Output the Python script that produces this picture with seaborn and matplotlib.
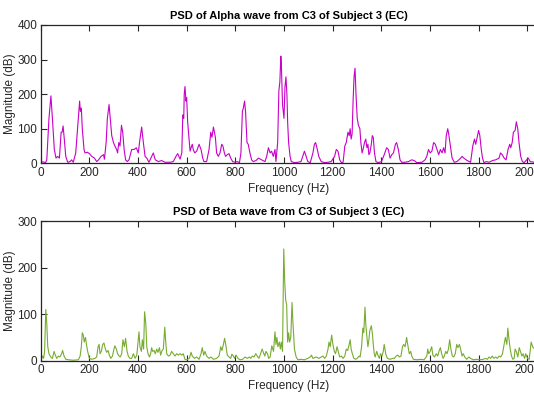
import seaborn as sns
import pandas as pd
import matplotlib.pyplot as plt

# PSD of alpha band (Hz, magnitude)
alpha_freq = [0, 10, 20, 25, 34, 42, 49, 56, 63, 70, 77, 84, 88, 92, 97, 103, 111, 121, 127,
              134, 144, 152, 160, 163, 167, 171, 178, 182, 192, 200, 210, 221, 230, 238, 248,
              258, 262, 269, 274, 281, 286, 292, 299, 305, 312, 316, 321, 326, 332, 337, 343,
              349, 356, 363, 374, 384, 393, 401, 408, 415, 422, 429, 436, 445, 453, 463, 471,
              484, 497, 511, 532, 545, 556, 563, 573, 580, 584, 588, 590, 593, 597, 600, 604,
              610, 614, 618, 623, 627, 633, 641, 651, 659, 666, 671, 682, 692, 699, 704, 710,
              714, 718, 723, 730, 737, 744, 749, 755, 760, 767, 774, 781, 789, 799, 808, 817,
              823, 829, 833, 838, 842, 848, 853, 860, 867, 874, 885, 895, 908, 922, 929, 936,
              943, 949, 956, 963, 967, 974, 979, 983, 987, 989, 994, 997, 1000, 1004, 1008,
              1012, 1015, 1019, 1025, 1030, 1043, 1057, 1070, 1077, 1084, 1091, 1098, 1108,
              1119, 1125, 1130, 1137, 1143, 1153, 1167, 1181, 1194, 1208, 1215, 1222, 1229,
              1236, 1243, 1250, 1256, 1263, 1268, 1272, 1276, 1280, 1284, 1288, 1292, 1296,
              1301, 1306, 1312, 1316, 1321, 1325, 1331, 1336, 1341, 1345, 1349, 1353, 1359,
              1363, 1367, 1372, 1378, 1387, 1401, 1412, 1422, 1429, 1436, 1443, 1450, 1458,
              1463, 1470, 1477, 1484, 1498, 1512, 1525, 1535, 1546, 1567, 1580, 1587, 1594,
              1601, 1608, 1615, 1622, 1629, 1636, 1643, 1650, 1656, 1662, 1667, 1673, 1677,
              1684, 1691, 1700, 1711, 1722, 1732, 1739, 1753, 1767, 1776, 1783, 1788, 1794,
              1800, 1805, 1811, 1816, 1822, 1832, 1843, 1857, 1870, 1884, 1890, 1897, 1905,
              1913, 1921, 1928, 1932, 1938, 1943, 1950, 1955, 1961, 1966, 1973, 1980, 1987,
              2004, 2012, 2030]
alpha_mag = [3, 4, 2, 10, 130, 195, 120, 40, 15, 20, 15, 90, 90, 108, 70, 20, 3, 5, 10,
             3, 30, 105, 180, 150, 160, 100, 40, 30, 32, 28, 20, 15, 5, 10, 20,
             25, 12, 60, 130, 170, 130, 80, 60, 50, 40, 30, 60, 50, 110, 90, 40,
             10, 5, 10, 40, 40, 45, 30, 70, 105, 60, 20, 15, 3, 15, 30, 10,
             5, 8, 3, 3, 5, 20, 28, 12, 30, 140, 130, 200, 222, 180, 190, 120,
             70, 35, 45, 55, 40, 30, 35, 55, 40, 15, 5, 5, 40, 90, 75, 105,
             90, 75, 30, 20, 30, 55, 50, 30, 20, 25, 28, 15, 5, 3, 5, 2,
             30, 150, 160, 180, 150, 60, 55, 30, 10, 5, 8, 15, 10, 5, 20, 45,
             30, 35, 20, 40, 5, 60, 210, 235, 310, 290, 170, 150, 130, 220, 250,
             200, 120, 60, 20, 5, 2, 3, 5, 20, 35, 20, 5, 2,
             30, 55, 60, 40, 20, 5, 2, 3, 5, 20, 40, 35, 10,
             2, 3, 50, 60, 90, 80, 100, 70, 85, 180, 250, 275, 200,
             130, 110, 100, 60, 30, 40, 60, 70, 45, 55, 25, 30, 55,
             80, 75, 30, 5, 2, 5, 25, 45, 40, 15, 25, 30, 55,
             60, 40, 10, 3, 3, 5, 10, 8, 2, 3, 10, 20, 40,
             30, 35, 60, 55, 40, 25, 40, 30, 45, 30, 80, 100, 85,
             50, 15, 3, 5, 12, 20, 15, 8, 3, 50, 70, 55, 75,
             95, 80, 40, 15, 2, 5, 3, 8, 10, 15, 30, 25, 15,
             10, 40, 55, 45, 60, 90, 95, 120, 100, 60, 20, 5, 2,
             15, 5, 3]

# PSD of beta band (Hz, magnitude)
beta_freq = [0, 4, 8, 12, 16, 21, 25, 29, 34, 41, 48, 55, 60, 66, 73, 79, 86, 90, 96, 103,
             114, 134, 155, 162, 167, 171, 175, 179, 184, 188, 193, 200, 210, 223, 230, 236,
             240, 244, 249, 255, 260, 266, 271, 277, 282, 288, 295, 301, 305, 311, 316, 322,
             327, 333, 338, 344, 349, 355, 360, 367, 374, 381, 388, 395, 400, 404, 408, 414,
             418, 423, 427, 432, 436, 441, 447, 452, 456, 460, 466, 471, 477, 482, 488, 493,
             499, 504, 510, 514, 518, 525, 532, 538, 545, 552, 559, 566, 573, 580, 586, 593,
             600, 611, 618, 623, 632, 641, 651, 659, 664, 670, 675, 682, 692, 700, 710, 723,
             733, 740, 745, 751, 756, 762, 767, 774, 781, 786, 792, 797, 803, 811, 819, 830,
             840, 849, 858, 863, 870, 877, 884, 890, 897, 904, 910, 915, 921, 926, 932, 937,
             943, 950, 957, 963, 967, 971, 975, 981, 985, 989, 994, 999, 1003, 1007, 1011,
             1015, 1019, 1023, 1028, 1033, 1037, 1043, 1050, 1057, 1070, 1084, 1098, 1108,
             1113, 1119, 1132, 1143, 1153, 1160, 1167, 1174, 1181, 1185, 1190, 1196, 1201,
             1207, 1212, 1218, 1223, 1229, 1236, 1243, 1250, 1256, 1262, 1268, 1272, 1276,
             1281, 1287, 1295, 1301, 1309, 1313, 1319, 1324, 1328, 1333, 1336, 1341, 1345,
             1349, 1353, 1359, 1363, 1367, 1371, 1375, 1381, 1386, 1392, 1397, 1403, 1408,
             1412, 1418, 1425, 1436, 1447, 1454, 1461, 1468, 1474, 1481, 1487, 1492, 1498,
             1504, 1510, 1515, 1521, 1525, 1532, 1546, 1563, 1576, 1587, 1591, 1595, 1601,
             1607, 1612, 1619, 1626, 1632, 1637, 1643, 1648, 1654, 1659, 1665, 1670, 1676,
             1681, 1686, 1692, 1698, 1704, 1710, 1715, 1721, 1726, 1732, 1737, 1743, 1751,
             1760, 1767, 1778, 1792, 1805, 1819, 1829, 1836, 1843, 1850, 1856, 1863, 1870,
             1877, 1884, 1891, 1898, 1905, 1910, 1916, 1920, 1924, 1930, 1935, 1941, 1946,
             1950, 1956, 1961, 1967, 1972, 1978, 1983, 1989, 1994, 2001, 2008, 2016, 2022,
             2030]
beta_mag = [25, 5, 10, 5, 20, 110, 80, 30, 15, 8, 5, 20, 12, 5, 10, 8, 15, 22, 10, 3,
            2, 1, 2, 10, 30, 60, 55, 40, 50, 35, 20, 5, 3, 5, 8, 30,
            35, 15, 20, 35, 38, 25, 18, 22, 12, 5, 10, 25, 32, 25, 15, 10,
            8, 15, 45, 30, 48, 20, 10, 5, 5, 15, 5, 12, 40, 62, 30, 20,
            45, 25, 105, 80, 30, 15, 8, 15, 28, 20, 22, 15, 25, 18, 28, 12,
            22, 25, 72, 40, 15, 10, 12, 20, 15, 10, 15, 12, 15, 12, 15, 3,
            2, 5, 18, 10, 5, 8, 3, 15, 28, 12, 20, 10, 5, 8, 3, 5,
            10, 30, 22, 35, 48, 30, 12, 8, 5, 14, 10, 5, 12, 5, 2, 3,
            8, 5, 8, 5, 10, 8, 15, 10, 5, 15, 25, 18, 10, 20, 15, 5,
            8, 32, 20, 62, 35, 50, 30, 40, 25, 40, 20, 240, 170, 130, 120,
            40, 60, 40, 50, 125, 80, 25, 8, 2, 3, 2, 5, 8,
            12, 5, 8, 5, 8, 10, 5, 10, 25, 40, 30, 55, 35,
            20, 15, 30, 20, 8, 10, 5, 10, 25, 22, 35, 45, 25,
            15, 5, 3, 5, 10, 8, 30, 70, 60, 115, 80, 50, 30,
            45, 65, 75, 60, 35, 15, 8, 20, 12, 5, 15, 10, 20,
            35, 15, 5, 3, 5, 5, 10, 12, 8, 10, 30, 35, 30,
            50, 30, 15, 20, 10, 3, 2, 3, 2, 10, 25, 15, 20,
            30, 12, 8, 15, 10, 20, 28, 15, 5, 10, 20, 15, 25,
            45, 25, 10, 8, 15, 35, 28, 35, 25, 10, 15, 8, 3,
            8, 5, 2, 3, 2, 3, 5, 3, 8, 5, 10, 5, 8,
            5, 10, 8, 15, 35, 50, 35, 70, 50, 25, 10, 3, 5,
            25, 18, 8, 28, 20, 10, 15, 5, 15, 5, 3, 40, 30,
            25]

alpha = pd.DataFrame({'freq': alpha_freq, 'mag': alpha_mag})
beta = pd.DataFrame({'freq': beta_freq, 'mag': beta_mag})

sns.set_theme(style='ticks')
plt.rcParams['font.family'] = ['Liberation Sans Narrow', 'Liberation Sans', 'DejaVu Sans']
plt.rcParams['axes.edgecolor'] = '#262626'
plt.rcParams['xtick.direction'] = 'in'
plt.rcParams['ytick.direction'] = 'in'

W, H = 534, 403
fig = plt.figure(figsize=(W / 100, H / 100), dpi=100)
ax1 = fig.add_axes([40.7 / W, 1 - 163.3 / H, (537 - 40.7) / W, (163.3 - 25) / H])
ax2 = fig.add_axes([40.7 / W, 1 - 360.7 / H, (537 - 40.7) / W, (360.7 - 221) / H])

panels = [(ax1, alpha, '#c800c8', 400, [0, 100, 200, 300, 400], 'PSD of Alpha wave from C3 of Subject 3 (EC)'),
          (ax2, beta, '#77ac30', 300, [0, 100, 200, 300], 'PSD of Beta wave from C3 of Subject 3 (EC)')]

for ax, df, col, ymax, yt, title in panels:
    sns.lineplot(data=df, x='freq', y='mag', color=col, linewidth=0.8, ax=ax,
                 estimator=None, sort=False)
    ax.set_xlim(0, 2040)
    ax.set_ylim(0, ymax)
    ax.set_xticks(range(0, 2001, 200))
    ax.set_yticks(yt)
    ax.tick_params(labelsize=8.5, length=4, width=0.8, top=True, colors='#262626',
                   labelcolor='#262626', pad=2.5)
    for s in ['left', 'bottom', 'top']:
        ax.spines[s].set_linewidth(0.9)
    ax.spines['right'].set_visible(False)
    ax.set_xlabel('Frequency (Hz)', fontsize=8.5, color='#262626', labelpad=3)
    ax.set_ylabel('Magnitude (dB)', fontsize=8.5, family=['Liberation Sans', 'DejaVu Sans'],
                  color='#262626')
    ax.yaxis.set_label_coords(-0.049, 0.5)
    ax.set_title(title, fontsize=8, fontweight='bold', color='black', pad=4)

fig.savefig('out.png', dpi=100)
